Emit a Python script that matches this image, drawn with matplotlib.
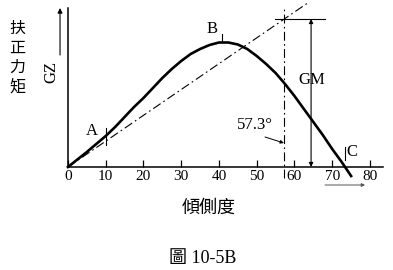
import matplotlib
matplotlib.use("Agg")
import matplotlib.pyplot as plt

# ─── Datos ──────────────────────────────────────────────
angulo = [0, 2.5, 5, 7.5, 10, 12.5, 15, 17.5, 20, 22.5, 25, 27.5, 30, 32.5, 35, 37.5,
          40, 42.5, 45, 47.5, 50, 52.5, 55, 57.5, 60, 62.5, 65, 67.5, 70, 72.5, 73.4, 75]
gz     = [0, 0.075, 0.15, 0.23, 0.31, 0.40, 0.50, 0.60, 0.69, 0.79, 0.89, 0.98, 1.06, 1.13, 1.18, 1.22,
          1.245, 1.245, 1.225, 1.18, 1.11, 1.03, 0.94, 0.83, 0.71, 0.58, 0.45, 0.32, 0.18, 0.05, 0.0, -0.09]

x_ticks = [0, 10, 20, 30, 40, 50, 60, 70, 80]
x_tick_labels = ["0", "10", "20", "30", "40", "50", "60", "70", "80"]

ang_rad = 57.3      # 1 radián
gm = 1.48           # altura de GM en 57.3°
x_gm_flecha = 64.4
tangente_x = [0, 63.6]
tangente_y = [0, gm / ang_rad * 63.6]

SERIF = ["Liberation Serif", "DejaVu Serif"]
CJK = ["Noto Sans CJK TC", "DejaVu Sans"]
MIX = ["Liberation Serif", "Noto Sans CJK TC"]

fig = plt.figure(figsize=(3.93, 2.70), dpi=100)
ax = fig.add_axes([0, 0, 1, 1])
ax.set_xlim(-18.0, 86.1)
ax.set_ylim(-1.03, 1.67)

# ejes
for s in ["top", "right"]:
    ax.spines[s].set_visible(False)
ax.spines["bottom"].set_position(("data", 0))
ax.spines["bottom"].set_bounds(0, 83.4)
ax.spines["left"].set_position(("data", 0))
ax.spines["left"].set_bounds(0, 1.59)
ax.spines["bottom"].set_linewidth(1.1)
ax.spines["left"].set_linewidth(1.1)
ax.set_yticks([])
ax.set_xticks(x_ticks)
ax.set_xticklabels(x_tick_labels, family=SERIF, fontsize=11)
ax.tick_params(axis="x", direction="in", length=5, width=0.9, pad=2)

# curva GZ
ax.plot(angulo, gz, color="black", lw=1.9, solid_joinstyle="round", zorder=3)

# tangente en el origen
ax.plot(tangente_x, tangente_y, color="black", lw=0.8, ls=(0, (8, 3, 1.5, 3)))

# vertical en 57.3°
ax.plot([ang_rad, ang_rad], [-0.11, 1.59], color="black", lw=0.8, ls=(0, (8, 3, 1.5, 3)))
# horizontal al nivel GM
ax.plot([54.8, 68.0], [gm, gm], color="black", lw=0.8)
# flecha GM
ax.annotate("", xy=(x_gm_flecha, 0), xytext=(x_gm_flecha, gm),
            arrowprops=dict(arrowstyle="<|-|>", color="black", lw=0.8,
                            mutation_scale=6, shrinkA=0, shrinkB=0))

# marcas en A, B, C
ax.plot([10, 10], [0.22, 0.39], color="black", lw=0.8)
ax.plot([40.8, 40.8], [1.25, 1.33], color="black", lw=0.8)
ax.plot([73.4, 73.4], [0.07, 0.20], color="black", lw=0.8)

ax.text(6.4, 0.36, "A", family=SERIF, fontsize=12, ha="center", va="center")
ax.text(38.2, 1.38, "B", family=SERIF, fontsize=12, ha="center", va="center")
ax.text(75.2, 0.15, "C", family=SERIF, fontsize=12, ha="center", va="center")
ax.text(61.0, 0.87, "GM", family=SERIF, fontsize=12, ha="left", va="center")

# etiqueta 57.3°
ax.text(49.5, 0.42, "57.3°", family=SERIF, fontsize=12, ha="center", va="center")
ax.annotate("", xy=(57.2, 0.24), xytext=(52.2, 0.30),
            arrowprops=dict(arrowstyle="-|>", color="black", lw=0.7,
                            mutation_scale=5, shrinkA=0, shrinkB=0))

# flecha bajo el eje
ax.annotate("", xy=(78.7, -0.18), xytext=(68.1, -0.18),
            arrowprops=dict(arrowstyle="-|>", color="#555555", lw=0.7,
                            mutation_scale=5, shrinkA=0, shrinkB=0))

# etiqueta del eje y
ax.text(-4.4, 0.95, "GZ", family=SERIF, fontsize=12, rotation=90, ha="center", va="center")
ax.annotate("", xy=(-2.1, 1.59), xytext=(-2.1, 1.12),
            arrowprops=dict(arrowstyle="-|>", color="black", lw=0.8,
                            mutation_scale=7, shrinkA=0, shrinkB=0))
ax.text(-13.5, 1.09, "扶\n正\n力\n矩", family=CJK, fontsize=11.5,
        ha="center", va="center", linespacing=1.2)

# etiqueta del eje x
ax.text(37.4, -0.41, "傾側度", family=CJK, fontsize=13, ha="center", va="center")

# pie de figura
ax.text(35.8, -0.92, "圖 10-5B", family=MIX, fontsize=13, ha="center", va="center")

fig.savefig("out.png", dpi=100)
